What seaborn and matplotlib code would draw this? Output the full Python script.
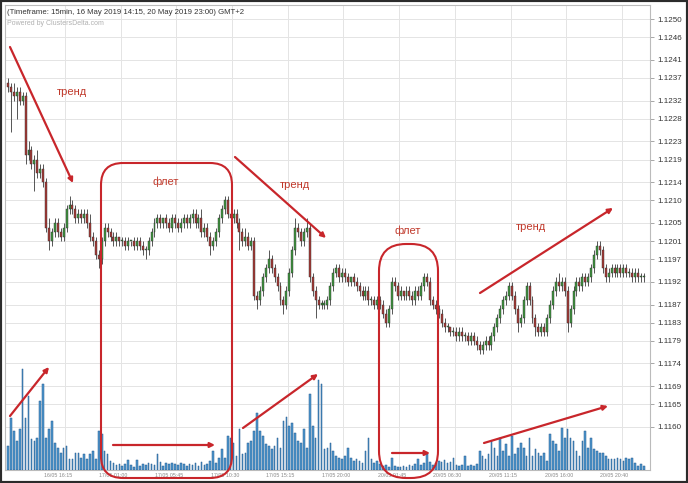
import numpy as np
import pandas as pd
import matplotlib
matplotlib.use("Agg")
import matplotlib.pyplot as plt
import seaborn as sns
from matplotlib.patches import FancyBboxPatch, FancyArrowPatch, Rectangle

# --- data (15 min EURUSD candles + volume) ---
first_open = 1.1236
close = [
    1.1235, 1.1234, 1.1233, 1.1234, 1.1232, 1.1233, 1.1220, 1.1221, 1.1218, 1.1219,
    1.1216, 1.1217, 1.1214, 1.1204, 1.1201, 1.1203, 1.1205, 1.1203, 1.1202, 1.1204,
    1.1208, 1.1209, 1.1208, 1.1206, 1.1207, 1.1206, 1.1207, 1.1205, 1.1202, 1.1201,
    1.1198, 1.1197, 1.1201, 1.1204, 1.1203, 1.1202, 1.1201, 1.1202, 1.1201, 1.1201,
    1.1200, 1.1201, 1.1201, 1.1200, 1.1201, 1.1200, 1.1199, 1.1199, 1.1201, 1.1203,
    1.1205, 1.1206, 1.1205, 1.1206, 1.1205, 1.1204, 1.1206, 1.1205, 1.1204, 1.1205,
    1.1206, 1.1205, 1.1206, 1.1207, 1.1205, 1.1206, 1.1203, 1.1204, 1.1202, 1.1200,
    1.1201, 1.1203, 1.1206, 1.1208, 1.1210, 1.1207, 1.1206, 1.1207, 1.1205, 1.1203,
    1.1201, 1.1202, 1.1200, 1.1201, 1.1189, 1.1188, 1.1190, 1.1193, 1.1195, 1.1197,
    1.1195, 1.1193, 1.1191, 1.1188, 1.1187, 1.1190, 1.1194, 1.1199, 1.1204, 1.1203,
    1.1201, 1.1203, 1.1204, 1.1193, 1.1190, 1.1188, 1.1187, 1.1187, 1.1187, 1.1188,
    1.1191, 1.1194, 1.1195, 1.1193, 1.1194, 1.1193, 1.1192, 1.1193, 1.1192, 1.1191,
    1.1190, 1.1189, 1.1190, 1.1188, 1.1188, 1.1187, 1.1188, 1.1187, 1.1185, 1.1183,
    1.1186, 1.1192, 1.1191, 1.1189, 1.1190, 1.1189, 1.1190, 1.1189, 1.1188, 1.1190,
    1.1189, 1.1191, 1.1193, 1.1192, 1.1188, 1.1187, 1.1186, 1.1185, 1.1183, 1.1182,
    1.1182, 1.1181, 1.1181, 1.1180, 1.1181, 1.1180, 1.1180, 1.1179, 1.1180, 1.1179,
    1.1178, 1.1177, 1.1178, 1.1179, 1.1178, 1.1180, 1.1182, 1.1184, 1.1186, 1.1188,
    1.1189, 1.1191, 1.1189, 1.1186, 1.1183, 1.1184, 1.1188, 1.1191, 1.1188, 1.1184,
    1.1182, 1.1181, 1.1182, 1.1181, 1.1184, 1.1187, 1.1190, 1.1192, 1.1191, 1.1192,
    1.1190, 1.1183, 1.1186, 1.1190, 1.1192, 1.1191, 1.1193, 1.1192, 1.1193, 1.1195,
    1.1198, 1.1200, 1.1199, 1.1195, 1.1193, 1.1194, 1.1195, 1.1194, 1.1195, 1.1194,
    1.1195, 1.1194, 1.1194, 1.1193, 1.1194, 1.1193, 1.1193, 1.1193,
]
# wick lengths in pips above / below the body
upper_wick = [
    1, 1, 2, 1, 1, 1, 1, 2, 1, 1, 2, 1, 1, 1, 2, 1, 1, 1, 1, 1,
    1, 2, 1, 1, 1, 1, 1, 1, 2, 1, 1, 1, 1, 1, 1, 1, 1, 1, 0, 1,
    1, 1, 0, 1, 1, 1, 1, 1, 1, 1, 1, 1, 1, 0, 1, 1, 1, 1, 1, 1,
    1, 1, 1, 1, 1, 1, 2, 1, 1, 1, 1, 1, 1, 1, 1, 1, 2, 1, 1, 1,
    1, 2, 1, 1, 1, 1, 1, 1, 1, 2, 1, 1, 1, 1, 1, 1, 1, 1, 2, 1,
    1, 1, 2, 1, 1, 1, 1, 1, 1, 1, 1, 1, 1, 1, 1, 1, 1, 0, 1, 1,
    1, 1, 1, 1, 1, 1, 1, 1, 1, 1, 1, 1, 1, 1, 1, 0, 1, 1, 1, 1,
    1, 1, 1, 1, 1, 1, 1, 1, 1, 1, 1, 0, 1, 1, 1, 1, 1, 1, 1, 1,
    1, 1, 1, 1, 1, 1, 1, 1, 1, 1, 1, 1, 1, 1, 1, 1, 1, 1, 1, 1,
    1, 1, 1, 1, 1, 1, 1, 1, 2, 1, 1, 1, 1, 1, 1, 1, 1, 1, 1, 1,
    1, 1, 1, 1, 1, 1, 1, 1, 1, 1, 1, 1, 1, 1, 1, 1, 1, 1,
]
lower_wick = [
    1, 9, 1, 5, 1, 1, 2, 1, 1, 6, 1, 1, 1, 1, 2, 1, 1, 1, 1, 1,
    1, 1, 1, 1, 1, 1, 1, 1, 1, 1, 1, 2, 1, 1, 1, 1, 1, 1, 1, 1,
    1, 1, 1, 1, 1, 1, 1, 2, 1, 1, 1, 1, 1, 1, 1, 1, 1, 1, 1, 1,
    1, 1, 1, 1, 1, 1, 1, 1, 1, 2, 1, 1, 1, 1, 1, 1, 1, 1, 1, 4,
    1, 1, 1, 1, 1, 2, 1, 1, 1, 1, 1, 1, 1, 1, 2, 1, 1, 1, 1, 1,
    1, 1, 1, 1, 1, 4, 1, 1, 1, 1, 1, 1, 1, 1, 1, 1, 1, 1, 1, 1,
    1, 1, 1, 1, 1, 1, 1, 1, 1, 1, 1, 1, 1, 1, 1, 1, 1, 1, 1, 1,
    1, 1, 1, 1, 1, 1, 1, 1, 1, 1, 1, 1, 1, 1, 1, 1, 1, 1, 1, 1,
    1, 1, 1, 1, 1, 1, 1, 1, 1, 1, 1, 1, 1, 1, 2, 1, 1, 1, 1, 1,
    2, 1, 1, 1, 1, 1, 1, 1, 1, 1, 1, 2, 1, 1, 1, 1, 1, 1, 1, 1,
    1, 1, 1, 1, 1, 1, 1, 1, 1, 1, 1, 1, 1, 1, 1, 1, 1, 1,
]
volume = [
    24, 52, 39, 29, 41, 101, 52, 74, 31, 29, 32, 69, 86, 32, 41, 49, 27, 22, 17, 22,
    24, 11, 11, 17, 17, 12, 16, 11, 16, 19, 11, 39, 36, 19, 16, 9, 7, 5, 6, 4,
    6, 10, 5, 3, 10, 4, 6, 5, 7, 6, 5, 16, 8, 4, 7, 6, 7, 6, 5, 7,
    6, 4, 6, 5, 7, 4, 8, 5, 6, 9, 19, 7, 12, 21, 12, 34, 32, 27, 14, 41,
    16, 17, 27, 29, 39, 57, 39, 34, 26, 24, 21, 24, 32, 22, 49, 53, 44, 47, 37, 29,
    27, 41, 22, 76, 44, 32, 90, 86, 21, 22, 27, 19, 14, 12, 11, 14, 22, 12, 9, 11,
    9, 7, 19, 32, 11, 7, 9, 6, 4, 5, 3, 12, 4, 3, 3, 4, 3, 5, 4, 6,
    11, 5, 7, 16, 8, 5, 7, 9, 8, 10, 7, 8, 12, 5, 4, 5, 14, 4, 5, 4,
    6, 19, 14, 11, 16, 29, 22, 14, 32, 19, 26, 14, 34, 16, 22, 27, 22, 14, 32, 14,
    21, 17, 14, 17, 9, 36, 29, 26, 19, 42, 32, 41, 32, 29, 19, 14, 29, 39, 22, 32,
    21, 19, 17, 17, 14, 11, 11, 11, 12, 11, 9, 12, 11, 12, 7, 4, 6, 4,
]
price_ticks = [1.1250, 1.1246, 1.1241, 1.1237, 1.1232, 1.1228, 1.1223, 1.1219, 1.1214,
               1.1210, 1.1205, 1.1201, 1.1197, 1.1192, 1.1187, 1.1183, 1.1179, 1.1174,
               1.1169, 1.1165, 1.1160]
time_labels = ["16/05 16:15", "17/05 01:00", "17/05 05:45", "17/05 10:30", "17/05 15:15",
               "17/05 20:00", "20/05 01:45", "20/05 06:30", "20/05 11:15", "20/05 16:00",
               "20/05 20:40"]

PIP = 0.0001
RED = "#c8262b"
W, H = 688, 483

sns.set_style("whitegrid")
plt.rcParams['font.family'] = ['Liberation Sans', 'DejaVu Sans']

df = pd.DataFrame({"close": close, "up_w": upper_wick, "lo_w": lower_wick, "volume": volume})
df["bar"] = np.arange(len(df))
df["open"] = [first_open] + close[:-1]
df["top"] = df[["open", "close"]].max(axis=1)
df["bot"] = df[["open", "close"]].min(axis=1)
df["high"] = df["top"] + df["up_w"] * PIP
df["low"] = df["bot"] - df["lo_w"] * PIP

fig = plt.figure(figsize=(W / 100, H / 100), dpi=100)
ax = fig.add_axes([5 / W, 13 / H, 645 / W, 465 / H])

# volume on a hidden twin axis
axv = ax.twinx()
sns.barplot(data=df, x="bar", y="volume", native_scale=True, color="#4f97cf",
            saturation=1, edgecolor="#245a8c", linewidth=0.35, width=0.55,
            errorbar=None, ax=axv)
axv.set_ylim(0, 465)
axv.axis("off")

# candles
colors = np.where(df["close"] >= df["open"], "#3f963f", "#a83a36")
ax.vlines(df["bar"], df["low"], df["high"], color="#3a3a3a", lw=0.6, zorder=3)
ax.bar(df["bar"], (df["top"] - df["bot"]).clip(lower=0.25 * PIP), bottom=df["bot"],
       width=0.68, color=colors, edgecolor="#2e2e2e", linewidth=0.3, zorder=4)

ax.set_xlim(-1.02, 219.1)
ax.set_ylim(1.11505, 1.12531)
ax.set_yticks(price_ticks)
ax.set_yticklabels([f"{v:.4f}" for v in price_ticks])
ax.yaxis.tick_right()
ax.tick_params(axis="y", length=3, width=0.6, color="#999999", labelsize=5.8,
               labelcolor="#333333", pad=2)
step = 19
label_pos = [17 + step * k for k in range(len(time_labels))]
ax.set_xticks(label_pos)
ax.set_xticklabels(time_labels, fontsize=3.8, color="#888888")
ax.tick_params(axis="x", length=0, pad=2)
ax.grid(axis="y", color="#e4e4e4", lw=0.7)
ax.grid(axis="x", visible=False)
for p in label_pos:
    ax.axvline(p + 2.5, color="#e4e4e4", lw=0.7, zorder=0)
for s in ax.spines.values():
    s.set_color("#bbbbbb")
    s.set_linewidth(0.8)
ax.set_xlabel("")
ax.set_ylabel("")


def px(x, y):
    return (x / 100, (H - y) / 100)


T = fig.dpi_scale_trans
fig.text(*px(7, 12), "(Timeframe: 15min, 16 May 2019 14:15, 20 May 2019 23:00) GMT+2",
         transform=T, fontsize=5.6, color="#333333", va="center")
fig.text(*px(7, 23), "Powered by ClustersDelta.com", transform=T, fontsize=5,
         color="#b0b0b0", va="center")

for x, y, s in [(72, 92, "тренд"), (166, 182, "флет"), (295, 185, "тренд"),
                (408, 231, "флет"), (531, 227, "тренд")]:
    fig.text(*px(x, y), s, transform=T, fontsize=8, color="#c0392b",
             ha="center", va="center")

for x0, y0, x1, y1, r in [(101, 163, 232, 478, 0.22), (379, 244, 438, 478, 0.27)]:
    fig.add_artist(FancyBboxPatch(px(x0, y1), (x1 - x0) / 100, (y1 - y0) / 100,
                                  boxstyle=f"round,pad=0,rounding_size={r}",
                                  transform=T, fill=False, ec=RED, lw=1.5))

arrows = [((10, 47), (73, 183)), ((235, 157), (326, 238)), ((480, 293), (613, 208)),
          ((10, 416), (49, 367)), ((113, 445), (215, 445)), ((243, 428), (318, 374)),
          ((392, 453), (430, 453)), ((484, 443), (608, 406))]
for a, b in arrows:
    fig.add_artist(FancyArrowPatch(px(*a), px(*b), transform=T, arrowstyle="-|>",
                                   mutation_scale=7, lw=1.6, color=RED,
                                   shrinkA=0, shrinkB=0))

fig.add_artist(Rectangle((0, 0), 1, 1, transform=fig.transFigure, fill=False,
                         ec="#2b2b2b", lw=3))

fig.savefig("out.png", dpi=100)
